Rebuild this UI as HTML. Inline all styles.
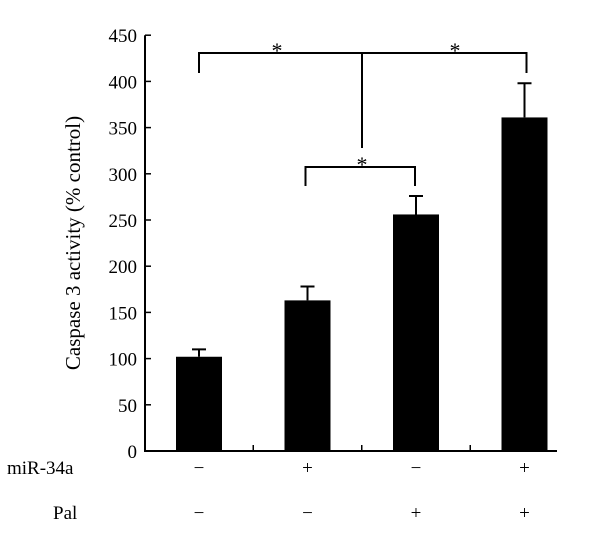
<!DOCTYPE html>
<html><head><style>body{margin:0;background:#fff}svg{display:block;font-family:"Liberation Serif",serif}</style></head>
<body>
<svg id="c" width="600" height="549"></svg>
<script>
const categories=["ctrl","miR-34a","Pal","miR-34a+Pal"];
const values=[102,163,256,361];
const errors=[8,15,20,37];
const tickLabels=[0,50,100,150,200,250,300,350,400,450];
const mirRow=["−","+","−","+"];
const palRow=["−","−","+","+"];
const NS="http://www.w3.org/2000/svg",svg=document.getElementById("c");
const x0=145,y0=451,sc=0.924,xs=108.5,xc0=199;
const y=v=>y0-v*sc, xc=i=>xc0+i*xs;
function el(t,a,txt){const e=document.createElementNS(NS,t);for(const k in a)e.setAttribute(k,a[k]);if(txt!==undefined)e.textContent=txt;svg.appendChild(e);return e;}
let e=el("line",{x1:x0,y1:y(450),x2:x0,y2:y0+1,stroke:"#000","stroke-width":2});


e=el("line",{x1:x0-1,y1:y0,x2:557,y2:y0,stroke:"#000","stroke-width":2});


tickLabels.forEach(v=>{
 let t=el("line",{x1:x0,y1:y(v),x2:x0+6,y2:y(v),stroke:"#000","stroke-width":1.5});
 
 
 let l=el("text",{x:137,y:y(v)+7,"text-anchor":"end","font-size":19},v);
 
 
});
for(let i=0;i<categories.length-1;i++){
 let t=el("line",{x1:xc(i)+xs/2,y1:y0,x2:xc(i)+xs/2,y2:y0-6,stroke:"#000","stroke-width":1.5});
 
 
}
categories.forEach((c,i)=>{
 let b=el("rect",{x:xc(i)-23,y:y(values[i]),width:46,height:y0-y(values[i]),fill:"#000"});
 
 
 let eb=el("path",{d:`M${xc(i)} ${y(values[i])}V${y(values[i]+errors[i])}M${xc(i)-7} ${y(values[i]+errors[i])}H${xc(i)+7}`,stroke:"#000","stroke-width":2,fill:"none"});
 
 
 let m=el("text",{x:xc(i),y:474,"text-anchor":"middle","font-size":19},mirRow[i]);
 
 
 let p=el("text",{x:xc(i),y:519,"text-anchor":"middle","font-size":19},palRow[i]);
 
 
});
let br=el("path",{d:`M${xc(0)} 73V53H${xc(3)+2}V73M362 53V148M${xc(1)-2} 186V167H${xc(2)-1}V186`,stroke:"#000","stroke-width":2,fill:"none"});


[[277,58],[455,58],[362,172]].forEach(p=>{
 let s=el("text",{x:p[0],y:p[1],"text-anchor":"middle","font-size":22},"*");
 
 
});
let a=el("text",{x:7,y:474,"font-size":19},"miR-34a");


a=el("text",{x:53,y:519,"font-size":19},"Pal");


a=el("text",{x:0,y:0,"font-size":21,"text-anchor":"middle",transform:"translate(80,243) rotate(-90)"},"Caspase 3 activity (% control)");


</script>
</body></html>
